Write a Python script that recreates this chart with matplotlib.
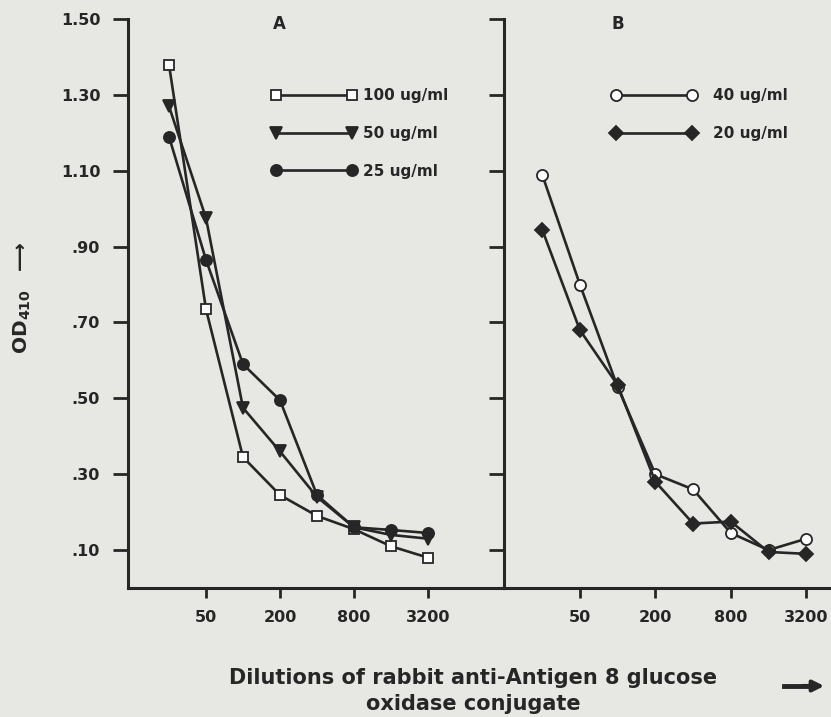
import matplotlib.pyplot as plt
from matplotlib.ticker import NullLocator

# ==========================
# DATA
# ==========================
dilutions = [25, 50, 100, 200, 400, 800, 1600, 3200]

# panel A
a_100 = [1.38, 0.735, 0.345, 0.245, 0.19, 0.155, 0.11, 0.08]
a_50 = [1.27, 0.975, 0.475, 0.36, 0.24, 0.16, 0.14, 0.13]
a_25 = [1.19, 0.865, 0.59, 0.495, 0.245, 0.16, 0.153, 0.145]

# panel B
b_40 = [1.09, 0.80, 0.53, 0.30, 0.26, 0.145, 0.10, 0.13]
b_20 = [0.945, 0.68, 0.535, 0.28, 0.17, 0.175, 0.095, 0.09]

x_ticks = [50, 200, 800, 3200]
x_labels = ["50", "200", "800", "3200"]
y_ticks = [1.50, 1.30, 1.10, 0.90, 0.70, 0.50, 0.30, 0.10]
y_labels = ["1.50", "1.30", "1.10", ".90", ".70", ".50", ".30", ".10"]

# ==========================
# STYLE
# ==========================
BG = "#e7e7e4"
INK = "#262626"
plt.rcParams["font.family"] = ["DejaVu Sans"]
plt.rcParams["font.weight"] = "bold"
plt.rcParams["mathtext.default"] = "bf"

fig = plt.figure(figsize=(8.31, 7.17), dpi=100, facecolor=BG)

W, H = 831, 717
axA = fig.add_axes([128 / W, 1 - 588 / H, 376 / W, 569 / H], facecolor=BG)
axB = fig.add_axes([504 / W, 1 - 588 / H, 327 / W, 569 / H], facecolor=BG)

line_kw = dict(color=INK, lw=1.9, markeredgecolor=INK, markeredgewidth=1.3)

axA.plot(dilutions, a_100, marker="s", ms=7, mfc="white", label="100 ug/ml", **line_kw)
axA.plot(dilutions, a_50, marker="v", ms=9, mfc=INK, label="50 ug/ml", **line_kw)
axA.plot(dilutions, a_25, marker="o", ms=8, mfc=INK, label="25 ug/ml", **line_kw)

axB.plot(dilutions, b_40, marker="o", ms=8, mfc="white", label="40 ug/ml", **line_kw)
axB.plot(dilutions, b_20, marker="D", ms=7, mfc=INK, label="20 ug/ml", **line_kw)

# ==========================
# AXES
# ==========================
for ax in (axA, axB):
    ax.set_xscale("log", base=2)
    ax.set_ylim(0, 1.5)
    ax.set_xticks(x_ticks)
    ax.set_xticklabels(x_labels)
    ax.xaxis.set_minor_locator(NullLocator())
    ax.set_yticks(y_ticks)
    ax.spines["top"].set_visible(False)
    ax.spines["right"].set_visible(False)
    ax.spines["left"].set_linewidth(2.2)
    ax.spines["bottom"].set_linewidth(2.2)
    ax.spines["left"].set_color(INK)
    ax.spines["bottom"].set_color(INK)
    ax.tick_params(axis="x", direction="out", length=7, width=2, color=INK,
                   pad=9, labelsize=11.5, labelcolor=INK)
    ax.tick_params(axis="y", direction="out", length=11, width=2, color=INK,
                   pad=9, labelsize=11.5, labelcolor=INK)

axA.set_xlim(11.6, 13290)
axB.set_xlim(12.4, 5040)
axA.set_yticklabels(y_labels)
axB.set_yticklabels([])

# ==========================
# LEGENDS
# ==========================
leg_kw = dict(frameon=False, numpoints=2, handlelength=5.6,
              labelspacing=1.5, borderpad=0, borderaxespad=0,
              prop={"size": 11, "weight": "bold"}, labelcolor=INK)
axA.legend(loc="upper left", bbox_to_anchor=(271 / W, 1 - 88 / H),
           bbox_transform=fig.transFigure, handletextpad=0.45, **leg_kw)
axB.legend(loc="upper left", bbox_to_anchor=(611 / W, 1 - 88 / H),
           bbox_transform=fig.transFigure, handletextpad=1.05, **leg_kw)

# ==========================
# TEXT
# ==========================
fig.text(279 / W, 1 - 24 / H, "A", fontsize=12, fontweight="bold",
         color=INK, ha="center", va="center")
fig.text(618 / W, 1 - 24 / H, "B", fontsize=12, fontweight="bold",
         color=INK, ha="center", va="center")

fig.text(22 / W, 1 - 298 / H, "OD$_{410}$  $\\longrightarrow$", rotation=90,
         fontsize=14.5, fontweight="bold", color=INK, ha="center", va="center")

fig.text(473 / W, 1 - 691 / H,
         "Dilutions of rabbit anti-Antigen 8 glucose\noxidase conjugate",
         fontsize=15, fontweight="bold", color=INK, ha="center", va="center",
         linespacing=1.4)

fig.add_artist(plt.Line2D([784 / W, 812 / W], [1 - 686 / H, 1 - 686 / H],
                          color=INK, lw=3.5))
axB.annotate("", xy=(827 / W, 1 - 686 / H), xytext=(800 / W, 1 - 686 / H),
             xycoords="figure fraction", textcoords="figure fraction",
             arrowprops=dict(arrowstyle="-|>", color=INK, lw=3,
                             mutation_scale=16))

plt.savefig("out.png", dpi=100, facecolor=BG)
